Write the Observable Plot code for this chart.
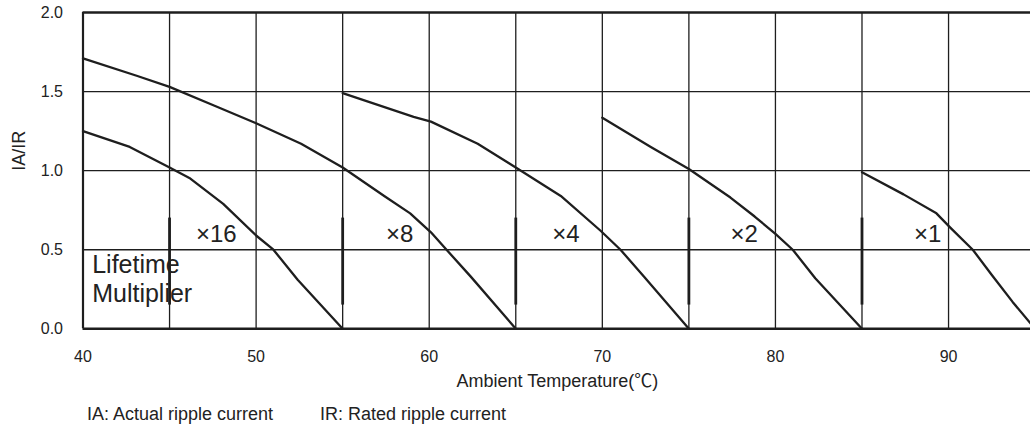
<!DOCTYPE html>
<html>
<head>
<meta charset="utf-8">
<script src="https://cdn.jsdelivr.net/npm/d3@7"></script>
<script src="https://cdn.jsdelivr.net/npm/@observablehq/plot@0.6"></script>
<style>
  html, body { margin: 0; padding: 0; background: white; overflow: hidden; width: 1030px; height: 427px; }
  #foot { position: relative; height: 23px; font-family: "Liberation Sans", Arial, sans-serif; font-size: 18px; line-height: 20px; color: #222; }
  #foot span { position: absolute; top: 0; white-space: nowrap; }
</style>
</head>
<body>
<div id="chart"></div>
<div id="foot"><span style="left:87px">IA: Actual ripple current</span><span style="left:320px">IR: Rated ripple current</span></div>
<script>
// ---- data ----
const xTicks = [40, 50, 60, 70, 80, 90];
const yTicks = [0, 0.5, 1.0, 1.5, 2.0];
const xGrid = [45, 50, 55, 60, 65, 70, 75, 80, 85, 90];
const yGrid = [0.5, 1.0, 1.5];

const seriesNames = ["×16", "×8", "×4", "×2", "×1"];

const temps16 = [40, 42.7, 45, 46.2, 48.1, 50, 51, 52.4, 55];
const vals16  = [1.25, 1.15, 1.02, 0.95, 0.79, 0.59, 0.50, 0.31, 0];

const temps8 = [40, 43.1, 45, 47.6, 50, 52.6, 55, 57.4, 58.9, 60.1, 61, 62.4, 65];
const vals8  = [1.71, 1.60, 1.53, 1.41, 1.30, 1.17, 1.02, 0.84, 0.73, 0.61, 0.50, 0.33, 0];

const temps4 = [55, 59.1, 60.1, 62.8, 65, 67.6, 69.9, 71.05, 72.4, 75];
const vals4  = [1.49, 1.34, 1.31, 1.17, 1.02, 0.84, 0.62, 0.50, 0.33, 0];

const temps2 = [70, 72.8, 75, 77.4, 78.8, 80, 81, 82.3, 85];
const vals2  = [1.335, 1.15, 1.01, 0.83, 0.71, 0.60, 0.50, 0.32, 0];

const temps1 = [85, 87.4, 89.3, 90.1, 91.4, 92.5, 93.7, 95];
const vals1  = [0.99, 0.85, 0.73, 0.64, 0.50, 0.34, 0.17, 0];

const labelX = [47.7, 58.3, 67.9, 78.2, 88.8];
const labelY = 0.55;

const sepX = [45, 55, 65, 75, 85];
const sepRange = [0.15, 0.70];

const yLabel = "IA/IR";
const xLabel = "Ambient Temperature(℃)";
const noteLines = ["Lifetime", "Multiplier"];
const noteY = [0.354, 0.168];

// ---- build table ----
const allT = [temps16, temps8, temps4, temps2, temps1];
const allV = [vals16, vals8, vals4, vals2, vals1];
const rows = seriesNames.flatMap((s, i) => allT[i].map((t, j) => ({series: s, t, v: allV[i][j]})));

const ink = "#1e1e1e";
const font = '"Liberation Sans", Arial, "Noto Sans CJK SC", sans-serif';

const plot = Plot.plot({
  width: 1035,
  height: 404,
  marginLeft: 82.5,
  marginRight: 0.4,
  marginTop: 12,
  marginBottom: 75.7,
  x: {domain: [40, 95]},
  y: {domain: [0, 2]},
  style: {fontFamily: font, color: "#222", background: "white", maxWidth: "none", overflow: "hidden"},
  marks: [
    Plot.ruleX(xGrid, {stroke: ink, strokeWidth: 1.3}),
    Plot.ruleY(yGrid, {stroke: ink, strokeWidth: 1.3}),
    Plot.ruleX([40], {stroke: ink, strokeWidth: 2.2}),
    Plot.ruleY([0, 2], {stroke: ink, strokeWidth: 2.5}),
    Plot.ruleX(sepX, {y1: sepRange[0], y2: sepRange[1], stroke: ink, strokeWidth: 2.8}),
    Plot.line(rows, {x: "t", y: "v", z: "series", stroke: ink, strokeWidth: 2.3}),
    Plot.text(seriesNames, {x: (d, i) => labelX[i], y: () => labelY, text: d => d, fontSize: 24, lineAnchor: "bottom", fill: "#222"}),
    Plot.text(noteLines, {x: () => 40.53, y: (d, i) => noteY[i], text: d => d, fontSize: 25, textAnchor: "start", lineAnchor: "bottom", fill: "#222"}),
    Plot.axisX({ticks: xTicks, tickSize: 0, tickPadding: 22, fontSize: 16, label: null}),
    Plot.axisY({ticks: yTicks, tickFormat: d => d.toFixed(1), tickSize: 0, tickPadding: 20, fontSize: 16, label: null}),
    Plot.text([yLabel], {frameAnchor: "left", dx: -64, rotate: -90, text: d => d, fontSize: 18, fill: "#222"}),
    Plot.text([xLabel], {x: () => 67.4, frameAnchor: "bottom", dy: 58, lineAnchor: "bottom", text: d => d, fontSize: 18, fill: "#222"})
  ]
});
document.getElementById("chart").appendChild(plot);
</script>
</body>
</html>
